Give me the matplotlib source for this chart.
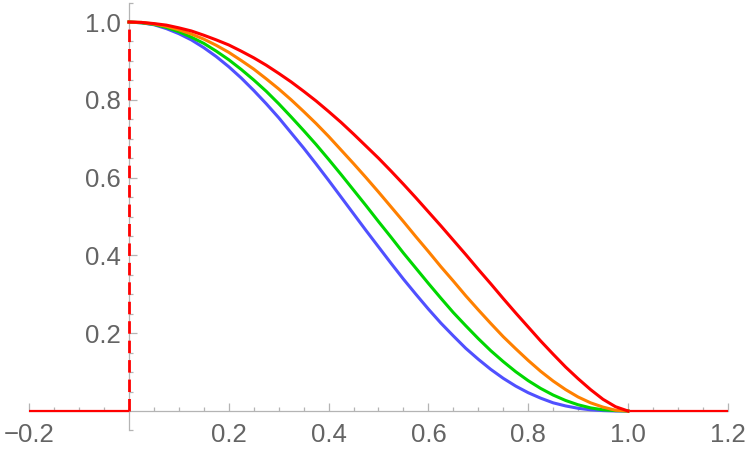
import numpy as np
import matplotlib
matplotlib.use("Agg")
import matplotlib.pyplot as plt

# values, x from 0 to 1 in steps of 0.025
xs = np.linspace(0, 1, 41)
red = [1.000, 0.999, 0.996, 0.992, 0.985, 0.977, 0.966, 0.954, 0.941, 0.925, 0.908,
       0.889, 0.868, 0.846, 0.822, 0.797, 0.770, 0.742, 0.712, 0.681, 0.650,
       0.617, 0.583, 0.548, 0.512, 0.476, 0.439, 0.402, 0.364, 0.327, 0.289,
       0.252, 0.216, 0.180, 0.146, 0.113, 0.083, 0.055, 0.030, 0.011, 0.000]
orange = [1.000, 0.999, 0.995, 0.989, 0.980, 0.969, 0.956, 0.940, 0.922, 0.901, 0.879,
          0.854, 0.828, 0.800, 0.770, 0.739, 0.706, 0.671, 0.636, 0.600, 0.563,
          0.525, 0.487, 0.448, 0.410, 0.371, 0.334, 0.296, 0.260, 0.225, 0.191,
          0.160, 0.130, 0.102, 0.077, 0.055, 0.036, 0.021, 0.010, 0.002, 0.000]
green = [1.000, 0.998, 0.994, 0.986, 0.975, 0.961, 0.945, 0.925, 0.903, 0.878, 0.851,
         0.822, 0.790, 0.756, 0.721, 0.685, 0.647, 0.608, 0.568, 0.528, 0.487,
         0.447, 0.406, 0.367, 0.328, 0.290, 0.253, 0.219, 0.186, 0.155, 0.127,
         0.101, 0.078, 0.058, 0.041, 0.027, 0.016, 0.008, 0.003, 0.001, 0.000]
blue = [1.000, 0.998, 0.993, 0.983, 0.970, 0.954, 0.934, 0.911, 0.885, 0.856, 0.824,
        0.790, 0.754, 0.715, 0.676, 0.635, 0.593, 0.550, 0.507, 0.464, 0.422,
        0.380, 0.339, 0.300, 0.262, 0.226, 0.193, 0.161, 0.133, 0.107, 0.084,
        0.064, 0.047, 0.033, 0.021, 0.013, 0.007, 0.003, 0.001, 0.000, 0.000]

# red piece outside [0, 1]
red_left_x, red_left_y = [-0.2, 0.0], [0.0, 0.0]
red_right_x, red_right_y = [1.0, 1.2], [0.0, 0.0]
jump_x, jump_y = [0.0, 0.0], [0.0, 1.0]

xticks = [-0.2, 0.2, 0.4, 0.6, 0.8, 1.0, 1.2]
xlabels = ["\u22120.2", "0.2", "0.4", "0.6", "0.8", "1.0", "1.2"]
yticks = [0.2, 0.4, 0.6, 0.8, 1.0]
ylabels = ["0.2", "0.4", "0.6", "0.8", "1.0"]

plt.rcParams["font.family"] = ["Liberation Sans", "DejaVu Sans"]

fig = plt.figure(figsize=(7.5, 4.53), dpi=100)
ax = fig.add_axes([0, 0, 1, 1])
ax.set_xlim(-0.2585, 1.2445)
ax.set_ylim(-0.108, 1.0566)

axis_col = "#b4b4b4"
for s in ["top", "right"]:
    ax.spines[s].set_visible(False)
ax.spines["left"].set_position(("data", 0))
ax.spines["bottom"].set_position(("data", 0))
ax.spines["left"].set_bounds(-0.05, 1.05)
ax.spines["bottom"].set_bounds(-0.2, 1.2)
for s in ["left", "bottom"]:
    ax.spines[s].set_color(axis_col)
    ax.spines[s].set_linewidth(0.9)

ax.set_xticks(xticks)
ax.set_xticklabels(xlabels)
ax.set_yticks(yticks)
ax.set_yticklabels(ylabels)
ax.set_xticks([v for v in np.arange(-0.2, 1.2001, 0.05) if min(abs(v - t) for t in xticks) > 1e-6], minor=True)
ax.set_yticks([-0.05, 0.05, 0.1, 0.15, 0.25, 0.3, 0.35, 0.45, 0.5, 0.55, 0.65, 0.7, 0.75,
               0.85, 0.9, 0.95, 1.05], minor=True)
ax.tick_params(which="both", direction="in", color=axis_col, width=0.9,
               labelsize=18.5, labelcolor="#646464")
ax.tick_params(which="major", length=5.5)
ax.tick_params(which="minor", length=3)
ax.tick_params(axis="x", pad=9)
ax.tick_params(axis="y", pad=6)

ax.plot(red_left_x, red_left_y, color="#ff0000", lw=1.6, solid_capstyle="butt", zorder=3)
ax.plot(red_right_x, red_right_y, color="#ff0000", lw=1.6, solid_capstyle="butt", zorder=3)
ax.plot(jump_x, jump_y, color="#ff0000", lw=2.0, dashes=(4.5, 2.5), zorder=3)

ax.plot(xs, blue, color="#5050ff", lw=2.2, zorder=3)
ax.plot(xs, green, color="#00d700", lw=2.2, zorder=3)
ax.plot(xs, orange, color="#ff8000", lw=2.2, zorder=3)
ax.plot(xs, red, color="#ff0000", lw=2.2, zorder=3)

fig.savefig("out.png", dpi=100)
